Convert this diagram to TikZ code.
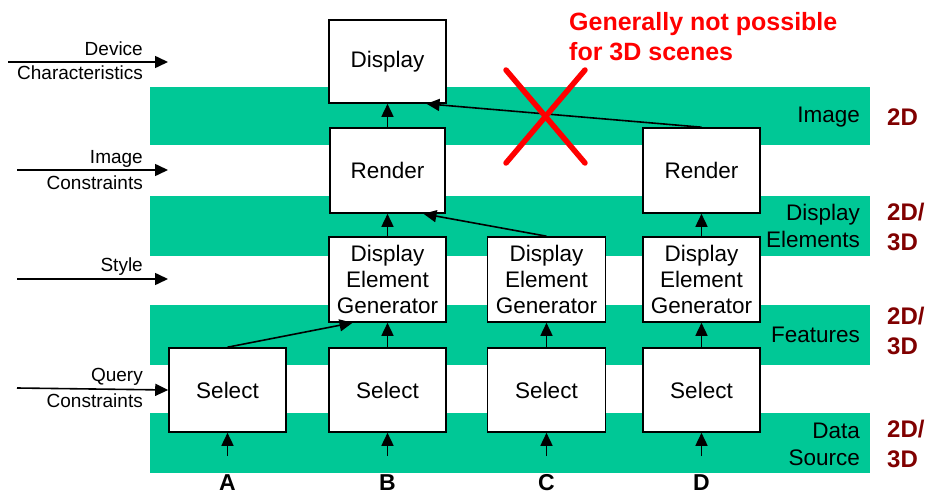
\documentclass[tikz,border=0pt]{standalone}
\usepackage{fontspec}
\setmainfont{Liberation Sans}
\usetikzlibrary{arrows.meta,calc}
\definecolor{band}{RGB}{0,200,150}
\definecolor{dred}{RGB}{128,0,0}
\definecolor{bred}{RGB}{255,0,0}
\tikzset{
  box/.style={draw=black, line width=1.6pt, fill=white, align=center, inner sep=0pt, font=\fontsize{22.5}{26}\selectfont},
  arr/.style={line width=1.6pt, -{Triangle[length=13pt,width=12pt]}},
  bandr/.style={fill=band, draw=none},
  lbl/.style={font=\fontsize{19}{24}\selectfont, align=right, anchor=east, inner sep=0pt},
  rlbl/.style={font=\fontsize{22.5}{27}\selectfont, align=right, anchor=east, inner sep=0pt},
  dim/.style={font=\bfseries\fontsize{24}{30}\selectfont, text=dred, align=left, anchor=west, inner sep=0pt},
  col/.style={font=\bfseries\fontsize{23}{24}\selectfont, inner sep=0pt},
}
\begin{document}
\begin{tikzpicture}[x=1pt,y=-1pt]
\useasboundingbox (0,0) rectangle (930,495);
% bands
\fill[bandr] (150,87) rectangle (870,145);
\fill[bandr] (150,196) rectangle (870,256);
\fill[bandr] (150,305) rectangle (870,365);
\fill[bandr] (150,413) rectangle (870,473);
% band labels
\node[rlbl] (limg) at (860,117) {Image};
\node[rlbl] (ldel) at (860,226) {Display\\Elements};
\node[rlbl] (lfeat) at (860,335) {Features};
\node[rlbl] (lds) at (860,444) {Data\\Source};
\node[dim] (d1) at (887,117) {2D};
\node[dim] (d2) at (887,227) {2D/\\3D};
\node[dim] (d3) at (887,331) {2D/\\3D};
\node[dim] (d4) at (887,444) {2D/\\3D};
% boxes
\node[box, minimum width=117pt, minimum height=83pt] (disp) at (387.5,61.5) {Display};
\node[box, minimum width=115pt, minimum height=85pt] (renB) at (387.5,170.5) {Render};
\node[box, minimum width=117pt, minimum height=85pt] (renD) at (701.5,170.5) {Render};
\node[box, minimum width=117pt, minimum height=85pt] (degB) at (387.5,279.5) {Display\\Element\\Generator};
\node[box, minimum width=118pt, minimum height=85pt] (degC) at (546.5,279.5) {Display\\Element\\Generator};
\node[box, minimum width=117pt, minimum height=85pt] (degD) at (701.5,279.5) {Display\\Element\\Generator};
\node[box, minimum width=117pt, minimum height=84pt] (selA) at (227.5,390) {Select};
\node[box, minimum width=117pt, minimum height=84pt] (selB) at (387.5,390) {Select};
\node[box, minimum width=118pt, minimum height=84pt] (selC) at (546.5,390) {Select};
\node[box, minimum width=117pt, minimum height=84pt] (selD) at (701.5,390) {Select};
% vertical arrows
\draw[arr] (renB) -- (disp);
\draw[arr] (degB) -- (renB);
\draw[arr] (selB) -- (degB);
\draw[arr] (selC) -- (degC);
\draw[arr] (selD) -- (degD);
\draw[arr] (degD) -- (renD);
% diagonal arrows
\coordinate (hB) at ($(degB.south)+(-35,0)$);
\draw[arr] (selA.north) -- (hB);
\coordinate (hR) at ($(renB.south)+(36,0)$);
\draw[arr] (degC.north) -- (hR);
\coordinate (hD) at ($(disp.south)+(39,0)$);
\draw[arr] (renD.north) -- (hD);
% bottom input arrows
\foreach \s/\x in {selA/227.5,selB/387.5,selC/546.5,selD/701.5}{
  \coordinate (b\s) at (\x,456);
  \draw[arr] (b\s) -- (\s.south);
}
\node[col] (cA) at (227.5,483) {A};
\node[col] (cB) at (387.5,483) {B};
\node[col] (cC) at (546.5,483) {C};
\node[col] (cD) at (701.5,483) {D};
% left inputs
\coordinate (l1) at (8,62);
\coordinate (r1) at (168,62);
\draw[arr] (l1) -- (r1);
\node[lbl] (t1a) at (143,49) {Device};
\node[lbl] (t1b) at (143,73) {Characteristics};
\coordinate (l2) at (17,170);
\coordinate (r2) at (168,170);
\draw[arr] (l2) -- (r2);
\node[lbl] (t2a) at (143,159) {Image};
\node[lbl] (t2b) at (143,183) {Constraints};
\coordinate (l3) at (17,279);
\coordinate (r3) at (168,279);
\draw[arr] (l3) -- (r3);
\node[lbl] (t3a) at (143,267) {Style};
\coordinate (l4) at (17,388);
\draw[arr] (l4) -- (selA.west);
\node[lbl] (t4a) at (143,377) {Query};
\node[lbl] (t4b) at (143,401) {Constraints};
% red note
\node[font=\bfseries\fontsize{25}{30}\selectfont, text=bred, align=left, anchor=west, inner sep=0pt] (note) at (569,37) {Generally not possible\\for 3D scenes};
\draw[bred, line width=5.5pt, line cap=round] (506,70) -- (585,163);
\draw[bred, line width=5.5pt, line cap=round] (585,70) -- (506,163);
\end{tikzpicture}
\end{document}
